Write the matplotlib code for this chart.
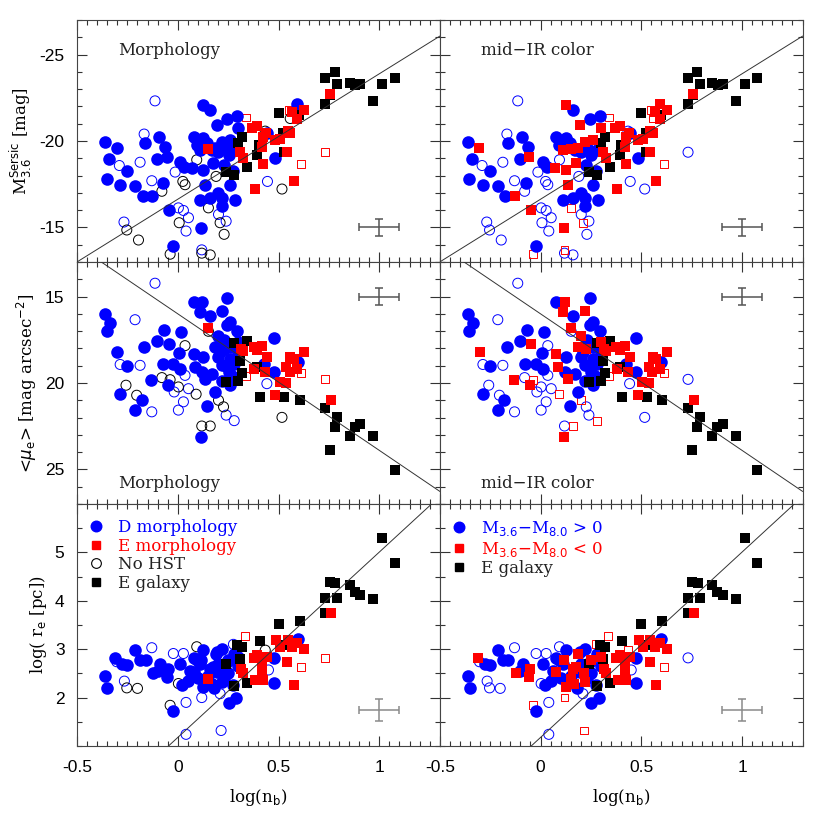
import matplotlib
matplotlib.use("Agg")
import matplotlib.pyplot as plt
from matplotlib.lines import Line2D
from matplotlib.ticker import MultipleLocator, FixedLocator, FuncFormatter

plt.rcParams['axes.unicode_minus'] = False
plt.rcParams['mathtext.fontset'] = 'dejavusans'
SERIF = 'DejaVu Serif'
SANS = 'Liberation Sans'

# ---------------- TOP ROW: log(n_b) vs M_3.6 ----------------
T_D_x = [-0.361,-0.303,-0.339,-0.250,-0.353,-0.286,-0.212,-0.174,-0.129,-0.162,-0.091,-0.063,-0.101,-0.055,-0.071,-0.046,-0.022,0.124,0.161,0.243,0.296,0.194,0.301,0.078,0.127,0.111,0.094,0.219,0.260,0.169,0.202,0.252,0.177,0.012,0.070,0.127,0.227,0.276,0.260,0.136,0.111,0.161,0.219,0.285,0.219,0.114,0.483,0.591,0.030,0.145,0.185,0.442,0.23,0.28,0.20]
T_D_y = [-19.96,-19.58,-18.95,-18.28,-17.80,-17.47,-17.38,-16.84,-16.80,-19.87,-20.21,-19.67,-18.95,-19.09,-17.57,-16.03,-13.93,-22.07,-21.78,-21.30,-21.46,-20.92,-20.73,-20.25,-20.15,-19.46,-19.75,-19.96,-20.06,-19.46,-19.39,-19.18,-18.72,-18.81,-18.43,-18.33,-18.62,-18.24,-17.47,-17.47,-16.61,-16.70,-16.70,-16.61,-16.23,-14.98,-19.00,-22.16,-18.50,-19.90,-19.60,-20.46,-19.6,-19.5,-17.0]
T_D_c = "brbbb" "bbbrb" "bbbrb" "rbrbb" "brrbb" "rbrrb" "bbrbr" "rbbbr" "bbbbb" "rbrbb" "rbbbb"
T_E_x = [0.152,0.310,0.326,0.392,0.425,0.439,0.417,0.422,0.483,0.508,0.541,0.545,0.558,0.566,0.591,0.627,0.757,0.381,0.575,0.368]
T_E_y = [-19.52,-19.39,-19.00,-20.86,-20.25,-20.44,-19.67,-18.66,-20.06,-20.10,-19.39,-20.57,-20.44,-21.68,-21.30,-21.78,-22.70,-17.22,-17.66,-20.73]
T_E_c = "rrrrrrrrrrrrrrrrrrrr"
T_Eo_x = [0.338,0.732,0.611,0.550]
T_Eo_y = [-21.36,-19.35,-18.66,-21.78]
T_Eo_c = "rbrr"
T_N_x = [-0.079,-0.038,-0.253,-0.195,0.036,0.025,0.094,0.152,0.119,0.161,0.210,0.230,0.190,0.517,0.434,0.558,0.007]
T_N_y = [-17.09,-13.45,-14.85,-14.27,-17.47,-17.66,-18.91,-16.13,-13.51,-13.41,-15.27,-14.60,-17.95,-17.22,-20.57,-21.30,-15.27]
T_N_c = "brbbbbbrbbrbbbbrb"
T_Do_x = [-0.113,-0.167,-0.187,-0.290,-0.129,-0.267,-0.013,0.003,0.028,0.053,0.041,0.119,0.202,0.240,0.445]
T_Do_y = [-22.32,-20.40,-18.77,-18.58,-17.70,-15.31,-18.20,-16.13,-15.98,-15.56,-14.79,-13.70,-15.75,-15.36,-17.66]
T_Do_c = "bbbbbbbbbbbrbbb"
T_G_x = [0.732,0.778,0.790,0.853,0.881,0.906,1.013,1.076,0.969,0.732,0.757,0.500,0.600,0.318,0.301,0.401,0.392,0.343,0.240,0.281,0.525,0.522]
T_G_y = [-23.64,-23.98,-23.31,-23.35,-23.26,-23.31,-23.28,-23.64,-22.32,-22.16,-22.64,-21.59,-21.49,-20.25,-19.87,-19.77,-19.20,-18.52,-18.18,-18.05,-19.39,-20.44]

# ---------------- MIDDLE ROW: log(n_b) vs <mu_e> ----------------
M_D_x = [-0.361,-0.336,-0.353,-0.300,-0.250,-0.286,-0.212,-0.179,-0.166,-0.132,-0.104,-0.068,-0.046,-0.075,-0.050,-0.022,0.012,0.007,0.017,0.078,0.119,0.243,0.219,0.111,0.161,0.243,0.260,0.293,0.078,0.127,0.185,0.202,0.227,0.219,0.260,0.252,0.086,0.119,0.136,0.185,0.260,0.147,0.475,0.426,0.475,0.599,0.114,0.21,0.24,0.28,0.17,0.20,0.300,0.23,0.26,0.27,0.22,0.30]
M_D_y = [16.02,16.55,16.97,18.22,19.04,20.65,21.57,21.00,17.93,19.81,17.59,16.93,17.74,18.93,20.13,18.89,19.18,18.26,17.07,15.34,15.34,15.10,15.86,15.92,16.15,16.65,16.49,16.97,18.31,18.51,17.93,18.51,18.03,18.98,18.60,19.37,19.08,19.37,19.75,20.52,20.13,21.32,17.41,18.89,19.37,18.79,23.10,18.2,19.0,18.9,19.5,17.30,17.64,17.5,17.9,19.6,19.9,18.3]
M_D_c = "bbbrb" "bbbbr" "bbrbr" "bbbbb" "rbrrb" "bbbrb" "rbrbb" "brbrb" "bbbbb" "brbbb" "brr" "bbbbb"
M_E_x = [0.152,0.313,0.326,0.376,0.392,0.417,0.442,0.379,0.434,0.505,0.538,0.483,0.538,0.558,0.575,0.555,0.594,0.627,0.760]
M_E_y = [16.82,18.03,18.16,17.93,18.12,17.89,18.47,19.18,19.37,19.94,20.00,20.71,19.08,18.51,18.60,19.37,19.18,18.22,21.00]
M_E_c = "rrrrrrrrrrrrrrrrrrr"
M_Eo_x = [0.339,0.611,0.732]
M_Eo_y = [19.62,19.43,19.79]
M_Eo_c = "rrb"
M_N_x = [-0.079,-0.038,-0.257,-0.204,0.003,0.091,0.036,0.119,0.161,0.202,0.227,0.517,0.152]
M_N_y = [19.69,19.81,20.13,20.71,20.23,20.65,17.84,22.49,22.49,21.00,21.38,21.99,17.01]
M_N_c = "brbbbrbbrrbbb"
M_Do_x = [-0.113,-0.212,-0.286,-0.187,-0.129,0.003,0.028,-0.018,0.053,0.036,0.240,0.280,0.442]
M_Do_y = [14.23,16.34,18.93,18.98,21.67,21.57,21.09,20.52,20.33,19.56,21.86,22.18,20.04]
M_Do_c = "bbbbbbbbbbbrb"
M_G_x = [0.281,0.343,0.310,0.318,0.298,0.240,0.392,0.406,0.528,0.604,0.732,0.790,0.778,0.853,0.877,0.906,0.969,0.753,1.076]
M_G_y = [17.68,17.59,18.74,19.40,19.90,19.94,19.08,20.84,20.84,21.00,21.42,21.99,22.57,23.07,22.57,22.38,23.07,23.87,25.02]

# ---------------- BOTTOM ROW: log(n_b) vs log(r_e) ----------------
B_D_x = [-0.361,-0.349,-0.311,-0.278,-0.252,-0.212,-0.187,-0.159,-0.121,-0.088,-0.055,-0.050,0.012,0.020,-0.022,0.078,0.127,0.194,0.127,0.252,0.290,0.475,0.475,0.599,0.078,0.094,0.194,0.243,0.276,0.219,0.16,0.10,0.05,0.15,0.20,0.25,0.28,0.22,0.30,0.06,0.18,-0.10,0.11,0.23,0.116,0.188,0.177,0.215,0.168,0.251,0.300]
B_D_y = [2.44,2.19,2.81,2.70,2.67,2.99,2.77,2.77,2.50,2.70,2.43,2.58,2.69,2.26,1.72,2.81,2.98,2.94,2.22,1.88,2.00,2.81,2.30,3.22,2.53,2.77,2.53,2.74,2.26,2.33,2.60,2.40,2.35,2.45,2.70,2.50,2.90,3.00,2.65,2.55,2.20,2.55,2.70,2.40,2.77,2.91,2.63,2.50,2.29,2.77,2.84]
B_D_c = "bbrbb" "bbbrb" "rrbbb" "bbbrb" "bbbbr" "bbbbr" "rbbbb" "bbbbb" "bbbbr" "rrrrr" "r"
B_E_x = [0.152,0.313,0.326,0.376,0.392,0.417,0.442,0.417,0.384,0.425,0.488,0.508,0.541,0.545,0.566,0.594,0.627,0.575,0.760]
B_E_y = [2.39,2.59,2.50,2.81,2.88,2.77,2.84,2.57,2.36,2.37,3.19,3.05,2.74,3.19,3.05,3.12,3.01,2.26,3.74]
B_E_c = "rrrrrrrrrrrrrrrrrrr"
B_Eo_x = [0.334,0.613,0.732]
B_Eo_y = [3.28,2.63,2.82]
B_Eo_c = "rrb"
B_N_x = [-0.253,-0.200,-0.038,0.003,0.094,0.434]
B_N_y = [2.20,2.19,1.84,2.29,3.05,2.98]
B_N_c = "bbrbbr"
B_Do_x = [-0.129,-0.265,-0.022,0.028,0.041,0.119,0.215,0.041,0.276,0.450,0.210,-0.303]
B_Do_y = [3.03,2.34,2.91,2.91,1.90,2.00,1.32,1.24,3.10,2.57,2.08,2.74]
B_Do_c = "bbbbbrrbrbbb"
B_G_x = [1.013,1.076,0.753,0.781,0.853,0.877,0.906,0.969,0.732,0.790,0.732,0.500,0.604,0.406,0.293,0.318,0.310,0.240,0.343,0.281,0.525]
B_G_y = [5.29,4.77,4.39,4.36,4.32,4.19,4.12,4.03,4.05,4.05,3.74,3.53,3.59,3.17,3.08,3.05,2.79,2.70,2.31,2.23,3.08]

# fit lines (slope, intercept) and typical error bars
fit_slope = [-7.257, 7.90, 3.83]
fit_icpt = [-16.63, 16.00, 1.176]
err_x, err_dx = 1.0, 0.1
err_y = [-15.0, 15.0, 1.75]
err_dy = [0.5, 0.5, 0.23]
err_col = ['#555555', '#555555', '#8a8a8a']

ylims = [(-13, -27), (27, 13), (1, 6)]
yticks = [[-25, -20, -15], [15, 20, 25], [2, 3, 4, 5]]
yminor = [1, 1, 0.5]
ylabels = [r"M$^{\mathrm{Sersic}}_{\mathrm{3.6}}$ [mag]",
           r"<$\mu_{\mathrm{e}}$> [mag arcsec$^{-2}$]",
           r"log( r$_{\mathrm{e}}$ [pc])"]
xticks = [-0.5, 0, 0.5, 1]

rows = [
    dict(D=(T_D_x, T_D_y, T_D_c), E=(T_E_x, T_E_y, T_E_c), Eo=(T_Eo_x, T_Eo_y, T_Eo_c),
         N=(T_N_x, T_N_y, T_N_c), Do=(T_Do_x, T_Do_y, T_Do_c), G=(T_G_x, T_G_y)),
    dict(D=(M_D_x, M_D_y, M_D_c), E=(M_E_x, M_E_y, M_E_c), Eo=(M_Eo_x, M_Eo_y, M_Eo_c),
         N=(M_N_x, M_N_y, M_N_c), Do=(M_Do_x, M_Do_y, M_Do_c), G=(M_G_x, M_G_y)),
    dict(D=(B_D_x, B_D_y, B_D_c), E=(B_E_x, B_E_y, B_E_c), Eo=(B_Eo_x, B_Eo_y, B_Eo_c),
         N=(B_N_x, B_N_y, B_N_c), Do=(B_Do_x, B_Do_y, B_Do_c), G=(B_G_x, B_G_y)),
]

BLUE, RED = '#0000ff', '#ff0000'
S_FILL_C, S_FILL_S, S_OPEN_C, S_OPEN_S, S_GAL = 82, 52, 52, 32, 55


def trip(g):
    x, y, c = g
    n = min(len(x), len(y), len(c))
    return list(x[:n]), list(y[:n]), c[:n]


def draw_left(ax, r):
    x, y, c = trip(r['Do'])
    ax.scatter(x, y, s=S_OPEN_C, facecolors='none', edgecolors=BLUE, linewidths=0.7, zorder=2)
    x, y, c = trip(r['Eo'])
    ax.scatter(x, y, s=S_OPEN_S, marker='s', facecolors='none', edgecolors=RED, linewidths=0.7, zorder=2)
    x, y, c = trip(r['N'])
    ax.scatter(x, y, s=S_OPEN_C, facecolors='none', edgecolors='black', linewidths=0.7, zorder=2)
    x, y, c = trip(r['D'])
    ax.scatter(x, y, s=S_FILL_C, color=BLUE, linewidths=0, zorder=3)
    gx, gy = r['G']
    ax.scatter(gx, gy, s=S_GAL, marker='s', color='black', linewidths=0, zorder=4)
    x, y, c = trip(r['E'])
    ax.scatter(x, y, s=S_FILL_S, marker='s', color=RED, linewidths=0, zorder=5)


def draw_right(ax, r):
    ox, oy, oc = [], [], ''
    for k in ('Do', 'Eo', 'N'):
        x, y, c = trip(r[k])
        ox += x; oy += y; oc += c
    fx, fy, fc = [], [], ''
    for k in ('D', 'E'):
        x, y, c = trip(r[k])
        fx += x; fy += y; fc += c
    sel = lambda xs, cs, t: [v for v, cc in zip(xs, cs) if cc == t]
    ax.scatter(sel(ox, oc, 'b'), sel(oy, oc, 'b'), s=S_OPEN_C, facecolors='none',
               edgecolors=BLUE, linewidths=0.7, zorder=2)
    ax.scatter(sel(ox, oc, 'r'), sel(oy, oc, 'r'), s=S_OPEN_S, marker='s', facecolors='none',
               edgecolors=RED, linewidths=0.7, zorder=2)
    ax.scatter(sel(fx, fc, 'b'), sel(fy, fc, 'b'), s=S_FILL_C, color=BLUE, linewidths=0, zorder=3)
    gx, gy = r['G']
    ax.scatter(gx, gy, s=S_GAL, marker='s', color='black', linewidths=0, zorder=4)
    ax.scatter(sel(fx, fc, 'r'), sel(fy, fc, 'r'), s=S_FILL_S, marker='s', color=RED,
               linewidths=0, zorder=5)


fig = plt.figure(figsize=(8.22, 8.22), dpi=100)
lefts = [0.0937, 0.5350]
W = 0.4413
bottoms = [0.6813, 0.3869, 0.0925]
H = 0.2944
fmt = FuncFormatter(lambda v, p: ('%g' % v))
TXT = 12

for i, r in enumerate(rows):
    for j in range(2):
        ax = fig.add_axes([lefts[j], bottoms[i], W, H])
        ax.set_xlim(-0.5, 1.3)
        ax.set_ylim(*ylims[i])
        if j == 0:
            draw_left(ax, r)
        else:
            draw_right(ax, r)
        lx = [-0.5, 1.3]
        ax.plot(lx, [fit_icpt[i] + fit_slope[i] * v for v in lx], color='#333333', lw=0.7, zorder=6)
        ax.errorbar([err_x], [err_y[i]], xerr=[err_dx], yerr=[err_dy[i]], fmt='none',
                    ecolor=err_col[i], elinewidth=1.1, capsize=2.6, capthick=1.1, zorder=6)
        ax.xaxis.set_major_locator(FixedLocator(xticks))
        ax.xaxis.set_minor_locator(MultipleLocator(0.05))
        ax.yaxis.set_major_locator(FixedLocator(yticks[i]))
        ax.yaxis.set_minor_locator(MultipleLocator(yminor[i]))
        ax.xaxis.set_major_formatter(fmt)
        ax.yaxis.set_major_formatter(fmt)
        ax.tick_params(which='both', direction='in', top=True, right=True, color='#333333',
                       width=0.8, labelsize=12.5)
        ax.tick_params(which='major', length=7)
        ax.tick_params(which='minor', length=3.5)
        ax.tick_params(axis='x', pad=10)
        ax.tick_params(axis='y', pad=9)
        for lab in ax.get_xticklabels() + ax.get_yticklabels():
            lab.set_fontfamily(SANS)
        for sp in ax.spines.values():
            sp.set_color('#444444')
            sp.set_linewidth(0.8)
        if i < 2:
            ax.tick_params(axis='x', labelbottom=False)
        else:
            ax.set_xlabel(r"log(n$_{\mathrm{b}}$)", fontfamily=SERIF, fontsize=TXT, labelpad=9)
        if j == 1:
            ax.tick_params(axis='y', labelleft=False)
        else:
            ax.set_ylabel(ylabels[i], fontfamily=SERIF, fontsize=TXT, labelpad=4)
        title = 'Morphology' if j == 0 else 'mid\u2212IR color'
        if i == 0:
            ax.text(0.113, 0.855, title, transform=ax.transAxes, fontfamily=SERIF,
                    fontsize=TXT, color='#222222', va='baseline')
        elif i == 1:
            ax.text(0.113, 0.068, title, transform=ax.transAxes, fontfamily=SERIF,
                    fontsize=TXT, color='#222222', va='baseline')
        else:
            if j == 0:
                handles = [Line2D([], [], ls='none', marker='o', ms=7.6, mfc=BLUE, mec=BLUE),
                           Line2D([], [], ls='none', marker='s', ms=5.4, mfc=RED, mec=RED),
                           Line2D([], [], ls='none', marker='o', ms=7.0, mfc='none', mec='black', mew=0.8),
                           Line2D([], [], ls='none', marker='s', ms=5.4, mfc='black', mec='black')]
                labels = ['D morphology', 'E morphology', 'No HST', 'E galaxy']
                lc = [BLUE, RED, '#222222', '#222222']
            else:
                handles = [Line2D([], [], ls='none', marker='o', ms=7.6, mfc=BLUE, mec=BLUE),
                           Line2D([], [], ls='none', marker='s', ms=5.4, mfc=RED, mec=RED),
                           Line2D([], [], ls='none', marker='s', ms=5.4, mfc='black', mec='black')]
                labels = [r"M$_{3.6}$$-$M$_{8.0}$ > 0", r"M$_{3.6}$$-$M$_{8.0}$ < 0", 'E galaxy']
                lc = [BLUE, RED, '#222222']
            ax.legend(handles, labels, loc='upper left', bbox_to_anchor=(0.03, 0.937),
                      frameon=False, prop={'family': SERIF, 'size': TXT}, labelcolor=lc,
                      handlelength=1.0, handletextpad=0.8, labelspacing=0.09,
                      borderpad=0, borderaxespad=0)

fig.savefig('out.png', dpi=100)
